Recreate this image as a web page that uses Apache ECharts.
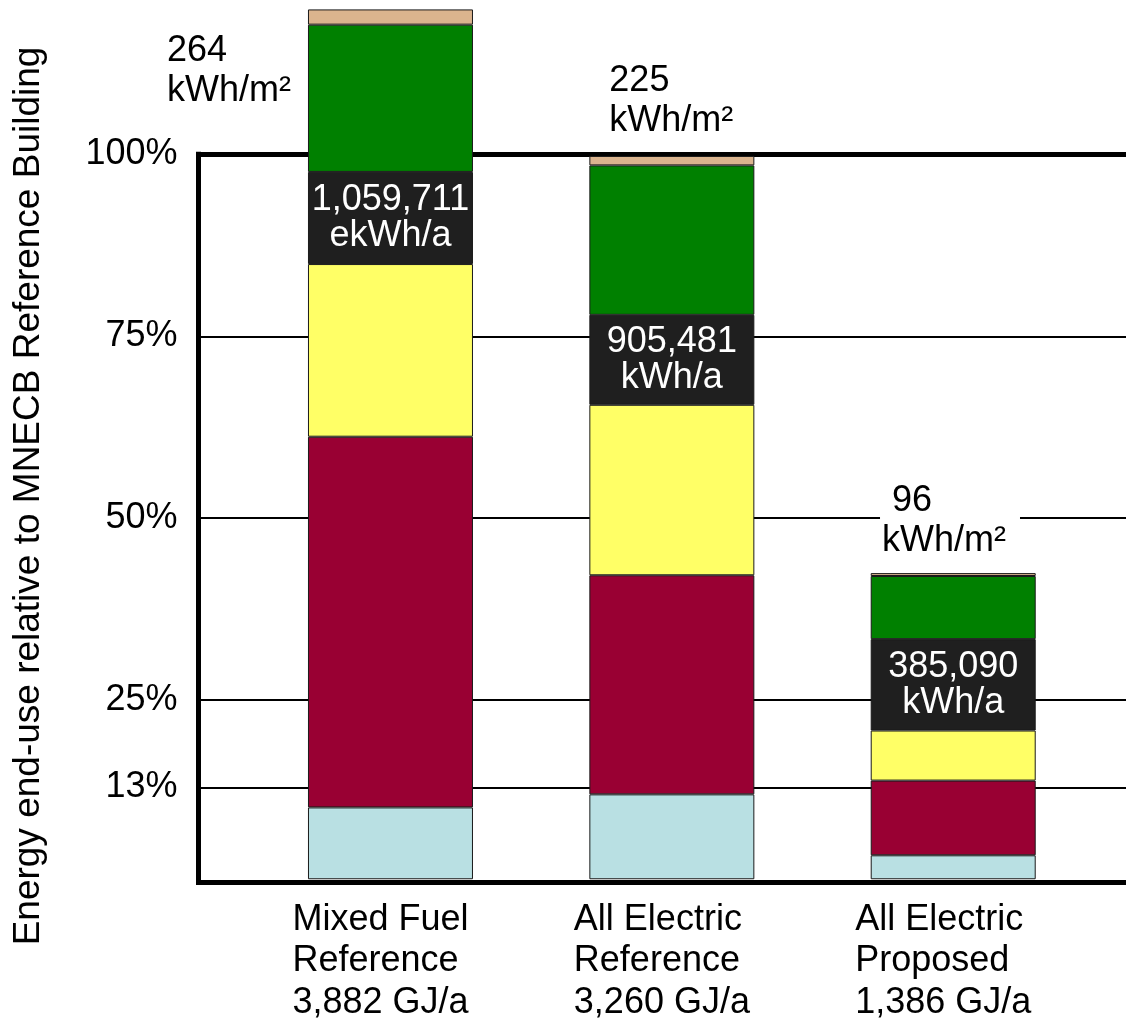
<!DOCTYPE html>
<html>
<head>
<meta charset="utf-8">
<title>Energy end-use comparison</title>
<script src="https://cdn.jsdelivr.net/npm/echarts@6/dist/echarts.min.js"></script>
<style>
  html, body { margin: 0; padding: 0; background: #fff; }
  #chart { width: 1126px; height: 1021px; }
</style>
</head>
<body>
<div id="chart"></div>
<script>
// ---- data ----
const caseNames = [['Mixed Fuel', 'Reference'], ['All Electric', 'Reference'], ['All Electric', 'Proposed']];
const annualGJ = ['3,882 GJ/a', '3,260 GJ/a', '1,386 GJ/a'];
const intensity = ['264', '225', '96'];
const intensityUnit = 'kWh/m²';
const annualEnergy = [['1,059,711', 'ekWh/a'], ['905,481', 'kWh/a'], ['385,090', 'kWh/a']];
const refTicks = [13, 25, 50, 75, 100];

// stacked end-use shares, % of the MNECB reference building, bottom to top
const band1 = [9.9, 11.7, 3.3];
const band2 = [51.1, 30.2, 10.3];
const band3 = [23.8, 23.5, 6.9];
const band4 = [12.7, 12.4, 12.6];
const band5 = [20.3, 20.6, 8.7];
const band6 = [2.1, 1.3, 0.4];

// ---- styling ----
const FONT = '"Liberation Sans", Arial, Helvetica, sans-serif';
const Y_MAX = 121;
const GRID_TOP = 1.44;
const GRID_BOTTOM = 138.8;
const bandColors = ['#b9e0e3', '#990033', '#ffff66', '#1f1f1f', '#008000', '#dbb48e'];
// where each intensity note sits, relative to the top segment of its bar
const noteSpots = [[-143, 21.6], [18, -94.5], [9.3, -92]];

const chart = echarts.init(document.getElementById('chart'), null, { renderer: 'canvas' });

function barSeries(values, idx, extra) {
  return Object.assign({
    type: 'bar',
    name: 'band' + (idx + 1),
    stack: 'enduse',
    xAxisIndex: 1,
    yAxisIndex: 1,
    barWidth: 165,
    z: 3,
    silent: true,
    itemStyle: { color: bandColors[idx], borderColor: '#1a1a1a', borderWidth: 1 },
    emphasis: { disabled: true },
    data: values
  }, extra || {});
}

const frameLine = { color: '#000', width: 5, type: 'solid', cap: 'square' };

const option = {
  animation: false,
  backgroundColor: '#fff',
  grid: [
    { left: 198.5, right: 0, top: GRID_TOP, bottom: GRID_BOTTOM },
    { left: 249.8, right: 32.1, top: GRID_TOP, bottom: GRID_BOTTOM }
  ],
  xAxis: [
    { type: 'value', gridIndex: 0, min: 0, max: 1, show: false },
    {
      type: 'category', gridIndex: 1,
      data: caseNames.map(n => n.join(' ')),
      axisLine: { show: false }, axisTick: { show: false }, splitLine: { show: false },
      axisLabel: {
        interval: 0, margin: 20,
        formatter: (v, i) => caseNames[i].concat([annualGJ[i]]).map(s => '{c|' + s + '}').join('\n'),
        rich: { c: { width: 196, align: 'left', fontSize: 36, lineHeight: 41.5, fontFamily: FONT, color: '#000' } }
      }
    }
  ],
  yAxis: [
    {
      type: 'value', gridIndex: 0, min: 0, max: Y_MAX, interval: 1,
      axisLine: { show: false }, axisTick: { show: false }, splitLine: { show: false },
      axisLabel: {
        margin: 21, fontSize: 36, fontFamily: FONT, color: '#000',
        formatter: v => refTicks.indexOf(v) >= 0 ? v + '%' : ''
      }
    },
    { type: 'value', gridIndex: 1, min: 0, max: Y_MAX, show: false }
  ],
  graphic: [{
    type: 'text',
    x: 28.5, y: 496,
    rotation: Math.PI / 2,
    silent: true,
    style: {
      text: 'Energy end-use relative to MNECB Reference Building',
      fontSize: 37, fontFamily: FONT, fill: '#000',
      align: 'center', verticalAlign: 'middle',
      textAlign: 'center', textVerticalAlign: 'middle'
    }
  }],
  series: [
    // reference lines and frame, kept behind the bars
    {
      type: 'line', xAxisIndex: 0, yAxisIndex: 0, data: [], z: 1, silent: true,
      markLine: {
        z: 1,
        silent: true, animation: false, symbol: ['none', 'none'],
        label: { show: false }, emphasis: { disabled: true },
        lineStyle: { color: '#000', width: 2, type: 'solid' },
        data: refTicks.filter(t => t < 100).map(t => ({ yAxis: t })).concat([
          [{ coord: [0, 100], lineStyle: frameLine }, { coord: [1, 100] }],
          [{ coord: [0, 0], lineStyle: frameLine }, { coord: [0, 100] }]
        ])
      }
    },
    barSeries(band1, 0),
    barSeries(band2, 1),
    barSeries(band3, 2),
    barSeries(band4, 3, {
      label: {
        show: true, position: 'inside', color: '#fff',
        fontSize: 36, lineHeight: 36, fontFamily: FONT,
        formatter: p => annualEnergy[p.dataIndex].join('\n')
      }
    }),
    barSeries(band5, 4),
    barSeries(band6.map((v, i) => ({
      value: v,
      label: {
        show: true,
        position: noteSpots[i],
        align: 'left', verticalAlign: 'top',
        fontSize: 36, lineHeight: 40, fontFamily: FONT, color: '#000',
        backgroundColor: '#fff', padding: [0, 14, 0, 2],
        formatter: (i === 2 ? ' ' : '') + intensity[i] + '\n' + intensityUnit
      }
    })), 5),
    // base line drawn over the bars
    {
      type: 'line', xAxisIndex: 0, yAxisIndex: 0, data: [], z: 10, silent: true,
      markLine: {
        z: 10,
        silent: true, animation: false, symbol: ['none', 'none'],
        label: { show: false }, emphasis: { disabled: true },
        data: [[{ coord: [0, 0], lineStyle: frameLine }, { coord: [1, 0] }]]
      }
    }
  ]
};

chart.setOption(option);
</script>
</body>
</html>
